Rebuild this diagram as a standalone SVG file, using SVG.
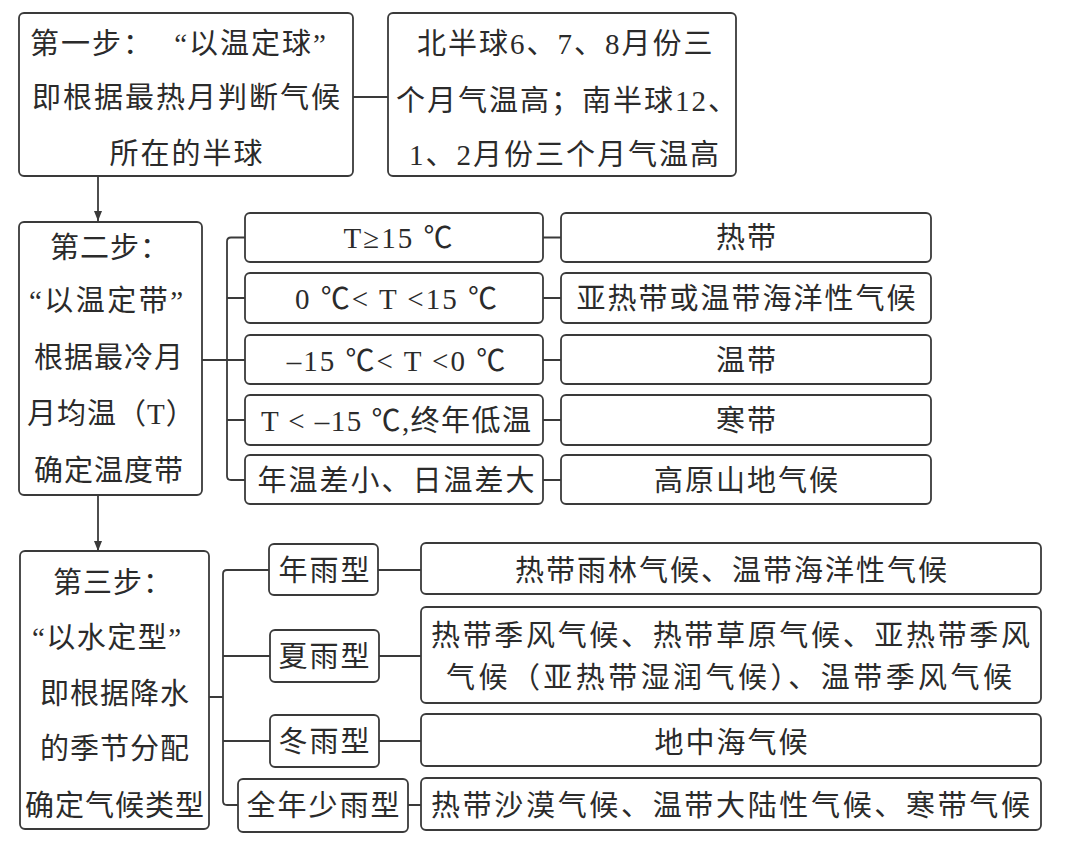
<svg xmlns="http://www.w3.org/2000/svg" width="1086" height="846" viewBox="0 0 1086 846">
<style>
.box{fill:#fff;stroke:#3a3a3a;stroke-width:1.8}
.ln{fill:none;stroke:#3a3a3a;stroke-width:1.8}
text{font-family:"Liberation Serif","Noto Sans CJK SC",serif;font-size:29px;fill:#2b2b2b;letter-spacing:2px}
.s{letter-spacing:1px}
.m{text-anchor:middle}
</style>
<defs>
<marker id="ah" viewBox="0 0 10 10" refX="10" refY="5" markerWidth="10" markerHeight="10" markerUnits="userSpaceOnUse" orient="auto">
<path d="M0,1 L10,5 L0,9 Z" fill="#3a3a3a"/>
</marker>
</defs>
<rect width="1086" height="846" fill="#fff"/>
<g id="connectors">
<path class="ln" d="M353,97 H388"/>
<path class="ln" d="M98,176 V221" marker-end="url(#ah)"/>
<path class="ln" d="M98,495 V551" marker-end="url(#ah)"/>
<path class="ln" d="M245,237.5 H231 Q227,237.5 227,241.5 V476 Q227,480 231,480 H245"/>
<path class="ln" d="M202,360 H245 M227,298 H245 M227,420 H245"/>
<path class="ln" d="M543,237.5 H561 M543,298 H561 M543,360 H561 M543,420 H561 M543,480 H561"/>
<path class="ln" d="M269,570 H227 Q223,570 223,574 V801 Q223,805 227,805 H238"/>
<path class="ln" d="M209,697 H223 M223,656 H270 M223,741 H270"/>
<path class="ln" d="M378,570 H421 M379,656 H421 M379,741 H421 M408,805 H421"/>
</g>
<g id="step1">
<rect class="box" x="19" y="13" width="334" height="163" rx="5"/>
<text x="30" y="54">第一步：</text>
<text x="328" y="54" text-anchor="end">“以温定球”</text>
<text class="m" x="187" y="108">即根据最热月判断气候</text>
<text class="m" x="187" y="164">所在的半球</text>
</g>
<g id="hemisphere">
<rect class="box" x="388" y="13" width="348" height="163" rx="5"/>
<text x="417" y="54">北半球6、7、8月份三</text>
<text x="396" y="111">个月气温高；南半球12、</text>
<text x="409" y="165">1、2月份三个月气温高</text>
</g>
<g id="step2">
<rect class="box" x="19" y="222" width="183" height="273" rx="5"/>
<text class="s" x="50" y="258">第二步：</text>
<text class="s" x="29" y="311" textLength="155" lengthAdjust="spacing">“以温定带”</text>
<text class="s" x="34" y="368">根据最冷月</text>
<text class="s" x="27" y="424">月均温（T）</text>
<text class="s" x="34" y="481">确定温度带</text>
</g>
<g id="cond1"><rect class="box" x="245" y="213" width="298" height="49" rx="5"/><text class="m" x="399" y="248">T≥15 ℃</text></g>
<g id="cond2"><rect class="box" x="245" y="273" width="298" height="50" rx="5"/><text class="m" x="397" y="309">0 ℃&lt; T &lt;15 ℃</text></g>
<g id="cond3"><rect class="box" x="245" y="335" width="298" height="49" rx="5"/><text class="m" x="397" y="371">–15 ℃&lt; T &lt;0 ℃</text></g>
<g id="cond4"><rect class="box" x="245" y="395" width="298" height="50" rx="5"/><text x="261" y="431" textLength="272" lengthAdjust="spacing">T &lt; –15 ℃,终年低温</text></g>
<g id="cond5"><rect class="box" x="245" y="455" width="298" height="49" rx="5"/><text class="m" x="397" y="491">年温差小、日温差大</text></g>
<g id="zone1"><rect class="box" x="561" y="213" width="370" height="49" rx="5"/><text class="m" x="747" y="248">热带</text></g>
<g id="zone2"><rect class="box" x="561" y="273" width="370" height="50" rx="5"/><text class="m" x="747" y="309">亚热带或温带海洋性气候</text></g>
<g id="zone3"><rect class="box" x="561" y="335" width="370" height="49" rx="5"/><text class="m" x="747" y="371">温带</text></g>
<g id="zone4"><rect class="box" x="561" y="395" width="370" height="50" rx="5"/><text class="m" x="747" y="431">寒带</text></g>
<g id="zone5"><rect class="box" x="561" y="455" width="370" height="49" rx="5"/><text class="m" x="747" y="491">高原山地气候</text></g>
<g id="step3">
<rect class="box" x="20" y="551" width="189" height="278" rx="5"/>
<text class="s" x="53" y="593">第三步：</text>
<text class="s" x="32" y="648" textLength="150" lengthAdjust="spacing">“以水定型”</text>
<text class="s" x="40" y="704">即根据降水</text>
<text class="s" x="40" y="759">的季节分配</text>
<text class="s" x="25" y="816">确定气候类型</text>
</g>
<g id="type1"><rect class="box" x="269" y="544" width="109" height="51" rx="5"/><text class="m" x="325" y="581">年雨型</text></g>
<g id="type2"><rect class="box" x="270" y="630" width="109" height="52" rx="5"/><text class="m" x="325" y="667">夏雨型</text></g>
<g id="type3"><rect class="box" x="270" y="715" width="109" height="52" rx="5"/><text class="m" x="325" y="752">冬雨型</text></g>
<g id="type4"><rect class="box" x="238" y="779" width="170" height="53" rx="5"/><text class="m" x="324" y="816">全年少雨型</text></g>
<g id="climate1"><rect class="box" x="421" y="543" width="620" height="51" rx="5"/><text class="m" x="732" y="581">热带雨林气候、温带海洋性气候</text></g>
<g id="climate2"><rect class="box" x="421" y="607" width="620" height="96" rx="5"/>
<text x="431" y="646" textLength="601" lengthAdjust="spacing">热带季风气候、热带草原气候、亚热带季风</text>
<text x="446" y="688" textLength="568" lengthAdjust="spacing">气候（亚热带湿润气候）、温带季风气候</text>
</g>
<g id="climate3"><rect class="box" x="421" y="714" width="620" height="52" rx="5"/><text class="m" x="732" y="753">地中海气候</text></g>
<g id="climate4"><rect class="box" x="421" y="778" width="620" height="52" rx="5"/><text x="431" y="816" textLength="601" lengthAdjust="spacing">热带沙漠气候、温带大陆性气候、寒带气候</text></g>
</svg>
